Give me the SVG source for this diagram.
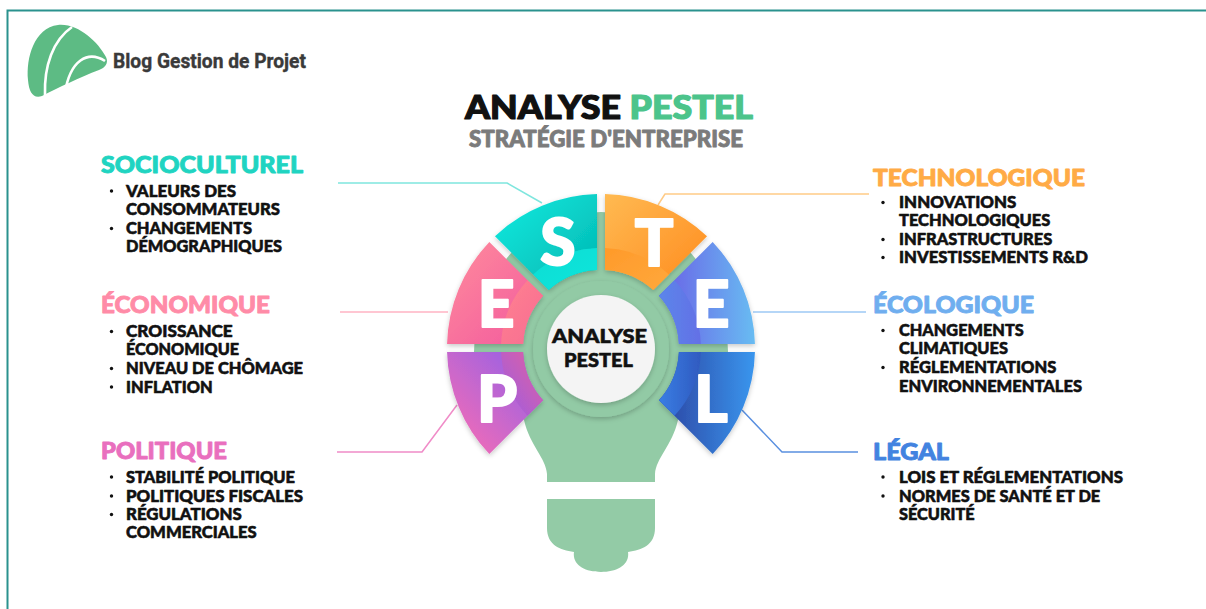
<svg xmlns="http://www.w3.org/2000/svg" width="1206" height="609" viewBox="0 0 1206 609">
  <defs>
    <style>
      .head { font-family: Lato, "Liberation Sans", sans-serif; font-weight: 900; font-size: 23px; stroke-width: 0.9; stroke-linejoin: round; }
      .item { font-family: Lato, "Liberation Sans", sans-serif; font-weight: 900; font-size: 16px; fill: #111111; stroke: #111111; stroke-width: 0.55; stroke-linejoin: round; }
      .dot { fill: #111111; }
      .seg-letter { font-family: Lato, "Liberation Sans", sans-serif; font-weight: 900; font-size: 64px; fill: #ffffff; stroke: #ffffff; stroke-width: 2; stroke-linejoin: round; text-anchor: middle; }
      .core { font-family: Lato, "Liberation Sans", sans-serif; font-weight: 900; font-size: 19.5px; fill: #111111; stroke: #111111; stroke-width: 0.6; stroke-linejoin: round; }
      .link { fill: none; stroke-width: 1.5; stroke-linejoin: round; }
    </style>
    <filter id="soft" x="-20%" y="-20%" width="140%" height="140%">
      <feDropShadow dx="0" dy="2" stdDeviation="2.5" flood-color="#000000" flood-opacity="0.22"/>
    </filter>
    <linearGradient id="gS" x1="0" y1="0" x2="1" y2="1">
      <stop offset="0" stop-color="#12ECE0"/>
      <stop offset="1" stop-color="#00B4B0"/>
    </linearGradient>
    <linearGradient id="gS2" x1="0" y1="0" x2="1" y2="1">
      <stop offset="0" stop-color="#06DCD3"/>
      <stop offset="1" stop-color="#0FE6DC"/>
    </linearGradient>
    <linearGradient id="gT" x1="0" y1="0" x2="1" y2="1">
      <stop offset="0" stop-color="#FFBA52"/>
      <stop offset="1" stop-color="#FF8A1C"/>
    </linearGradient>
    <linearGradient id="gT2" x1="0" y1="0" x2="1" y2="1">
      <stop offset="0" stop-color="#FF9A2A"/>
      <stop offset="1" stop-color="#FFA83C"/>
    </linearGradient>
    <linearGradient id="gEL" x1="0" y1="0" x2="1" y2="1">
      <stop offset="0" stop-color="#FF8C9C"/>
      <stop offset="1" stop-color="#F2589E"/>
    </linearGradient>
    <linearGradient id="gEL2" x1="0" y1="0" x2="1" y2="1">
      <stop offset="0" stop-color="#FF8290"/>
      <stop offset="1" stop-color="#F76C92"/>
    </linearGradient>
    <linearGradient id="gER" x1="0" y1="0" x2="1" y2="0">
      <stop offset="0" stop-color="#6A5EE6"/>
      <stop offset="1" stop-color="#68BCF2"/>
    </linearGradient>
    <linearGradient id="gER2" x1="0" y1="0" x2="1" y2="0">
      <stop offset="0" stop-color="#5A86EA"/>
      <stop offset="1" stop-color="#6470E6"/>
    </linearGradient>
    <linearGradient id="gP" x1="0" y1="1" x2="1" y2="0">
      <stop offset="0" stop-color="#FF6DB0"/>
      <stop offset="1" stop-color="#8A60EC"/>
    </linearGradient>
    <linearGradient id="gP2" x1="0" y1="1" x2="1" y2="0">
      <stop offset="0" stop-color="#9A5CE6"/>
      <stop offset="1" stop-color="#E2609E"/>
    </linearGradient>
    <linearGradient id="gL" x1="0" y1="0" x2="1" y2="0">
      <stop offset="0" stop-color="#2B42A0"/>
      <stop offset="1" stop-color="#3A96EE"/>
    </linearGradient>
    <linearGradient id="gL2" x1="0" y1="0" x2="1" y2="0">
      <stop offset="0" stop-color="#3A7EE4"/>
      <stop offset="1" stop-color="#2F5AC0"/>
    </linearGradient>
  </defs>

  <rect x="0" y="0" width="1206" height="609" fill="#ffffff"/>

  <!-- frame -->
  <path d="M7.5,609 V10.5 H1206" fill="none" stroke="#2A928E" stroke-width="2"/>

  <!-- brand -->
  <g id="brand">
    <path d="M58,25 C78,23 98,42 106,57 C109,63 105,68 99,70 C80,77 58,88 42,96 C33,99 29,92 28,80 C26,58 34,28 58,25 Z" fill="#5DBB84"/>
    <path d="M72,27 C53,40 44,66 45,95" fill="none" stroke="#ffffff" stroke-width="2.6"/>
    <path d="M105,61 C88,50 70,60 65,93" fill="none" stroke="#ffffff" stroke-width="2.6"/>
    <text x="113" y="68" font-family="Roboto, 'Liberation Sans', sans-serif" font-weight="700" font-size="21" fill="#3A3A3A" stroke="#3A3A3A" stroke-width="0.4" textLength="193" lengthAdjust="spacingAndGlyphs">Blog Gestion de Projet</text>
  </g>

  <!-- title -->
  <g id="title">
    <text x="465" y="118.5" font-family="Lato, 'Liberation Sans', sans-serif" font-weight="900" font-size="32.5" fill="#111111" stroke="#111111" stroke-width="1.2" stroke-linejoin="round" textLength="288" lengthAdjust="spacingAndGlyphs">ANALYSE <tspan fill="#4CC48B" stroke="#4CC48B">PESTEL</tspan></text>
    <text x="469" y="146.5" font-family="Lato, 'Liberation Sans', sans-serif" font-weight="900" font-size="23" fill="#7B7B7B" stroke="#7B7B7B" stroke-width="0.9" stroke-linejoin="round" textLength="274" lengthAdjust="spacingAndGlyphs">STRATÉGIE D'ENTREPRISE</text>
  </g>

  <!-- connectors -->
  <g id="connectors">
    <polyline class="link" stroke="#7FE6DE" points="338,183 507,183 542,203"/>
    <polyline class="link" stroke="#FFB3C3" points="340,312 448,312"/>
    <polyline class="link" stroke="#F08CC8" points="337,452 422,452 457,405"/>
    <polyline class="link" stroke="#FFCB86" points="658,205 665,194 869,194"/>
    <polyline class="link" stroke="#9CC8F5" points="753,312 866,312"/>
    <polyline class="link" stroke="#5A90E0" points="742,410 782,452 858,452"/>
  </g>

  <!-- bulb -->
  <g id="bulb">
    <path d="M547,482 L547,474 C546,458 530,446 524,420 L474,352 A127,140 0 1 1 728,352 L678,420 C672,446 656,458 655,474 L655,482 Z" fill="#93CBA6"/>
    <path d="M547,499 H655 V528 C655,545 642,550 628,552 C630,565 617,572 601,572 C585,572 572,565 574,552 C560,550 547,545 547,528 Z" fill="#93CBA6"/>
  </g>

  <!-- segments -->
  <g id="seg-s" filter="url(#soft)">
    <path d="M494.97,236.32 A154,154 0 0 1 597,194.05 L597,270.10 A78,78 0 0 0 548.75,290.09 Z" fill="url(#gS)"/>
    <path d="M533.17,274.52 A100,100 0 0 1 597,248.08 L597,270.10 A78,78 0 0 0 548.75,290.09 Z" fill="url(#gS2)"/>
    <text class="seg-letter" x="558" y="265">S</text>
  </g>
  <g id="seg-t" filter="url(#soft)">
    <path d="M707.03,236.32 A154,154 0 0 0 605,194.05 L605,270.10 A78,78 0 0 1 653.25,290.09 Z" fill="url(#gT)"/>
    <path d="M668.83,274.52 A100,100 0 0 0 605,248.08 L605,270.10 A78,78 0 0 1 653.25,290.09 Z" fill="url(#gT2)"/>
    <text class="seg-letter" x="654" y="266">T</text>
  </g>
  <g id="seg-e-left" filter="url(#soft)">
    <path d="M447.05,344 A154,154 0 0 1 489.32,241.97 L543.09,295.75 A78,78 0 0 0 523.10,344 Z" fill="url(#gEL)"/>
    <path d="M501.08,344 A100,100 0 0 1 527.52,280.17 L543.09,295.75 A78,78 0 0 0 523.10,344 Z" fill="url(#gEL2)"/>
    <text class="seg-letter" x="496" y="327">E</text>
  </g>
  <g id="seg-e-right" filter="url(#soft)">
    <path d="M754.95,344 A154,154 0 0 0 712.68,241.97 L658.91,295.75 A78,78 0 0 1 678.90,344 Z" fill="url(#gER)"/>
    <path d="M700.92,344 A100,100 0 0 0 674.48,280.17 L658.91,295.75 A78,78 0 0 1 678.90,344 Z" fill="url(#gER2)"/>
    <text class="seg-letter" x="711" y="327">E</text>
  </g>
  <g id="seg-p" filter="url(#soft)">
    <path d="M447.05,352 A154,154 0 0 0 489.32,454.03 L543.09,400.25 A78,78 0 0 1 523.10,352 Z" fill="url(#gP)"/>
    <path d="M501.08,352 A100,100 0 0 0 527.52,415.83 L543.09,400.25 A78,78 0 0 1 523.10,352 Z" fill="url(#gP2)"/>
    <text class="seg-letter" x="497" y="422">P</text>
  </g>
  <g id="seg-l" filter="url(#soft)">
    <path d="M754.95,352 A154,154 0 0 1 712.68,454.03 L658.91,400.25 A78,78 0 0 0 678.90,352 Z" fill="url(#gL)"/>
    <path d="M700.92,352 A100,100 0 0 1 674.48,415.83 L658.91,400.25 A78,78 0 0 0 678.90,352 Z" fill="url(#gL2)"/>
    <text class="seg-letter" x="711" y="422">L</text>
  </g>

  <!-- hub -->
  <g id="hub">
    <circle cx="601" cy="349" r="68" fill="#92CAA5" filter="url(#soft)"/>
    <circle cx="601" cy="349" r="54" fill="#F4F4F4" filter="url(#soft)"/>
    <text class="core" x="552" y="343" textLength="95" lengthAdjust="spacingAndGlyphs">ANALYSE</text>
    <text class="core" x="564" y="367" textLength="69" lengthAdjust="spacingAndGlyphs">PESTEL</text>
  </g>

  <!-- left column -->
  <g id="socioculturel">
    <text class="head" x="101" y="173.3" fill="#20D4C1" stroke="#20D4C1" textLength="202" lengthAdjust="spacingAndGlyphs">SOCIOCULTUREL</text>
    <circle class="dot" cx="111.5" cy="191" r="1.7"/>
    <text class="item" x="126" y="196.7" textLength="110" lengthAdjust="spacingAndGlyphs">VALEURS DES</text>
    <text class="item" x="126" y="215" textLength="154" lengthAdjust="spacingAndGlyphs">CONSOMMATEURS</text>
    <circle class="dot" cx="111.5" cy="228.5" r="1.7"/>
    <text class="item" x="126" y="234" textLength="126" lengthAdjust="spacingAndGlyphs">CHANGEMENTS</text>
    <text class="item" x="126" y="252" textLength="156" lengthAdjust="spacingAndGlyphs">DÉMOGRAPHIQUES</text>
  </g>
  <g id="economique">
    <text class="head" x="101" y="313.3" fill="#FF8BA7" stroke="#FF8BA7" textLength="169" lengthAdjust="spacingAndGlyphs">ÉCONOMIQUE</text>
    <circle class="dot" cx="111.5" cy="331.5" r="1.7"/>
    <text class="item" x="126" y="337.3" textLength="106.7" lengthAdjust="spacingAndGlyphs">CROISSANCE</text>
    <text class="item" x="126" y="355" textLength="113" lengthAdjust="spacingAndGlyphs">ÉCONOMIQUE</text>
    <circle class="dot" cx="111.5" cy="368.5" r="1.7"/>
    <text class="item" x="126" y="374.3" textLength="177" lengthAdjust="spacingAndGlyphs">NIVEAU DE CHÔMAGE</text>
    <circle class="dot" cx="111.5" cy="387" r="1.7"/>
    <text class="item" x="126" y="392.7" textLength="86.7" lengthAdjust="spacingAndGlyphs">INFLATION</text>
  </g>
  <g id="politique">
    <text class="head" x="101" y="459.3" fill="#E96FBE" stroke="#E96FBE" textLength="126" lengthAdjust="spacingAndGlyphs">POLITIQUE</text>
    <circle class="dot" cx="111.5" cy="477" r="1.7"/>
    <text class="item" x="126" y="482.7" textLength="169" lengthAdjust="spacingAndGlyphs">STABILITÉ POLITIQUE</text>
    <circle class="dot" cx="111.5" cy="496" r="1.7"/>
    <text class="item" x="126" y="501.7" textLength="177" lengthAdjust="spacingAndGlyphs">POLITIQUES FISCALES</text>
    <circle class="dot" cx="111.5" cy="514.5" r="1.7"/>
    <text class="item" x="126" y="520" textLength="115.7" lengthAdjust="spacingAndGlyphs">RÉGULATIONS</text>
    <text class="item" x="126" y="538.3" textLength="130.7" lengthAdjust="spacingAndGlyphs">COMMERCIALES</text>
  </g>

  <!-- right column -->
  <g id="technologique">
    <text class="head" x="873" y="185.7" fill="#FFAB45" stroke="#FFAB45" textLength="212" lengthAdjust="spacingAndGlyphs">TECHNOLOGIQUE</text>
    <circle class="dot" cx="883" cy="202.5" r="1.7"/>
    <text class="item" x="899" y="208.3" textLength="117.3" lengthAdjust="spacingAndGlyphs">INNOVATIONS</text>
    <text class="item" x="899" y="226" textLength="151.3" lengthAdjust="spacingAndGlyphs">TECHNOLOGIQUES</text>
    <circle class="dot" cx="883" cy="239.5" r="1.7"/>
    <text class="item" x="899" y="245" textLength="153.3" lengthAdjust="spacingAndGlyphs">INFRASTRUCTURES</text>
    <circle class="dot" cx="883" cy="257.5" r="1.7"/>
    <text class="item" x="899" y="263.3" textLength="189" lengthAdjust="spacingAndGlyphs">INVESTISSEMENTS R&amp;D</text>
  </g>
  <g id="ecologique">
    <text class="head" x="873" y="313.3" fill="#6FAEEF" stroke="#6FAEEF" textLength="161" lengthAdjust="spacingAndGlyphs">ÉCOLOGIQUE</text>
    <circle class="dot" cx="883" cy="330.5" r="1.7"/>
    <text class="item" x="899" y="336" textLength="124.7" lengthAdjust="spacingAndGlyphs">CHANGEMENTS</text>
    <text class="item" x="899" y="354" textLength="109" lengthAdjust="spacingAndGlyphs">CLIMATIQUES</text>
    <circle class="dot" cx="883" cy="367.5" r="1.7"/>
    <text class="item" x="899" y="373.3" textLength="157.3" lengthAdjust="spacingAndGlyphs">RÉGLEMENTATIONS</text>
    <text class="item" x="899" y="391.7" textLength="183" lengthAdjust="spacingAndGlyphs">ENVIRONNEMENTALES</text>
  </g>
  <g id="legal">
    <text class="head" x="873" y="460" fill="#4283E0" stroke="#4283E0" textLength="76" lengthAdjust="spacingAndGlyphs">LÉGAL</text>
    <circle class="dot" cx="883" cy="477" r="1.7"/>
    <text class="item" x="899" y="482.7" textLength="224" lengthAdjust="spacingAndGlyphs">LOIS ET RÉGLEMENTATIONS</text>
    <circle class="dot" cx="883" cy="496" r="1.7"/>
    <text class="item" x="899" y="501.7" textLength="201.3" lengthAdjust="spacingAndGlyphs">NORMES DE SANTÉ ET DE</text>
    <text class="item" x="899" y="520" textLength="75.7" lengthAdjust="spacingAndGlyphs">SÉCURITÉ</text>
  </g>
</svg>
